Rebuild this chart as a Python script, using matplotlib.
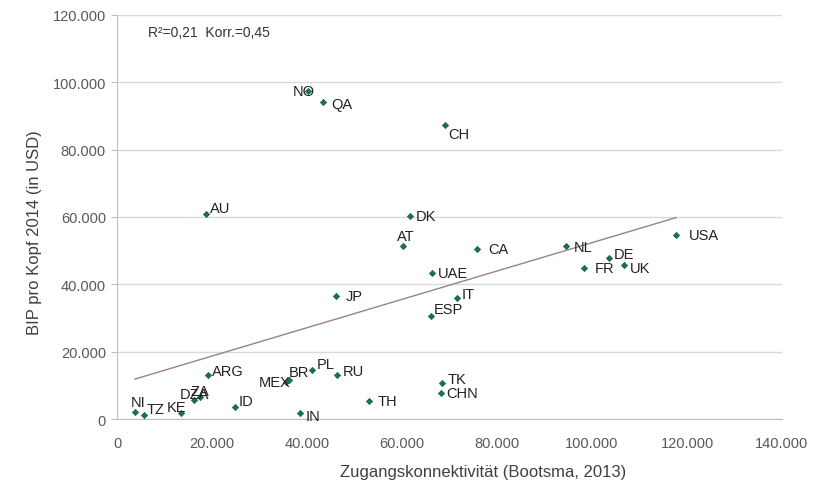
import numpy as np
import matplotlib
matplotlib.use("Agg")
import matplotlib.pyplot as plt
from matplotlib.ticker import FuncFormatter

plt.rcParams['font.family'] = ['Liberation Sans', 'DejaVu Sans']

# Länder, Zugangskonnektivität (x) und BIP pro Kopf (y)
countries = ["NO", "QA", "CH", "AU", "DK", "AT", "CA", "UAE", "IT", "ESP", "JP",
             "NL", "DE", "FR", "UK", "USA", "ARG", "PL", "RU", "MEX", "BR",
             "TK", "CHN", "TH", "IN", "ID", "DZA", "ZA", "NI", "TZ", "KE"]
konnektivitaet = [40200, 43400, 69100, 18700, 61700, 60200, 75800, 66300, 71600, 66100, 46100,
                  94500, 103600, 98300, 106700, 117700, 19200, 41100, 46300, 35600, 36200,
                  68400, 68200, 53100, 38500, 24800, 16200, 17500, 3800, 5700, 13500]
bip = [97300, 94300, 87200, 61000, 60400, 51500, 50600, 43500, 36000, 30700, 36600,
       51500, 47900, 44900, 45800, 54800, 13100, 14600, 13100, 11000, 11600,
       10700, 7700, 5400, 1800, 3600, 5700, 6500, 2100, 1200, 1800]

# Beschriftungs-Offsets in Punkten (dx, dy, ha)
offsets = {
    "NO": (5, 0, "right"), "QA": (6, -2, "left"), "CH": (2, -6, "left"),
    "AU": (3, 4, "left"), "DK": (4, 0, "left"), "AT": (2, 7, "center"),
    "CA": (8, 0, "left"), "UAE": (4, 0, "left"), "IT": (3, 3, "left"),
    "ESP": (2, 5, "left"), "JP": (7, 0, "left"), "NL": (6, -1, "left"),
    "DE": (3, 3, "left"), "FR": (8, 0, "left"), "UK": (4, -2, "left"),
    "USA": (9, 0, "left"), "ARG": (3, 3, "left"), "PL": (3, 4, "left"),
    "RU": (4, 3, "left"), "MEX": (3, 0, "right"), "BR": (0, 6, "left"),
    "TK": (4, 3, "left"), "CHN": (4, 0, "left"), "TH": (6, 0, "left"),
    "IN": (4, -2, "left"), "ID": (3, 4, "left"), "DZA": (-10, 4, "left"),
    "ZA": (-7, 4.5, "left"), "NI": (-3, 7, "left"), "TZ": (2, 4, "left"),
    "KE": (4, 4, "right"),
}

x = np.array(konnektivitaet, dtype=float)
y = np.array(bip, dtype=float)

fig = plt.figure(figsize=(8.14, 4.89), dpi=100)
ax = fig.add_axes([117 / 814, 1 - 420 / 489, 665 / 814, 404 / 489])

# lineare Trendlinie
slope, intercept = np.polyfit(x, y, 1)
xl = np.array([x.min(), x.max()])
ax.plot(xl, slope * xl + intercept, color="#9a8282", lw=1.0, zorder=2)

ax.scatter(x, y, marker="D", s=14, color="#1d6e52", zorder=3, linewidths=0)

for c, xi, yi in zip(countries, x, y):
    dx, dy, ha = offsets[c]
    ax.annotate(c, (xi, yi), xytext=(dx, dy), textcoords="offset points",
                ha=ha, va="center", fontsize=10.5, color="#222222", zorder=4)

ax.text(0.047, 0.958, "R²=0,21  Korr.=0,45", transform=ax.transAxes,
        fontsize=10, color="#333333", va="center")

ax.set_xlim(0, 140000)
ax.set_ylim(0, 120000)
ax.set_xticks(np.arange(0, 140001, 20000))
ax.set_yticks(np.arange(0, 120001, 20000))
fmt = FuncFormatter(lambda v, p: f"{int(v):,}".replace(",", "."))
ax.xaxis.set_major_formatter(fmt)
ax.yaxis.set_major_formatter(fmt)
ax.tick_params(axis="x", length=0, pad=12, labelsize=10.5, labelcolor="#595959")
ax.tick_params(axis="y", length=4, color="#bfbfbf", pad=4, labelsize=10.5, labelcolor="#595959")

ax.grid(axis="y", color="#d9d9d9", lw=1.0)
ax.set_axisbelow(True)
for s in ["top", "right"]:
    ax.spines[s].set_visible(False)
for s in ["left", "bottom"]:
    ax.spines[s].set_color("#bfbfbf")

ax.set_xlabel("Zugangskonnektivität (Bootsma, 2013)", fontsize=12, color="#404040")
ax.set_ylabel("BIP pro Kopf 2014 (in USD)", fontsize=12, color="#404040")
ax.xaxis.set_label_coords(0.55, -0.111)
ax.yaxis.set_label_coords(-0.113, 0.465)

fig.savefig("out.png", dpi=100, facecolor="white")
